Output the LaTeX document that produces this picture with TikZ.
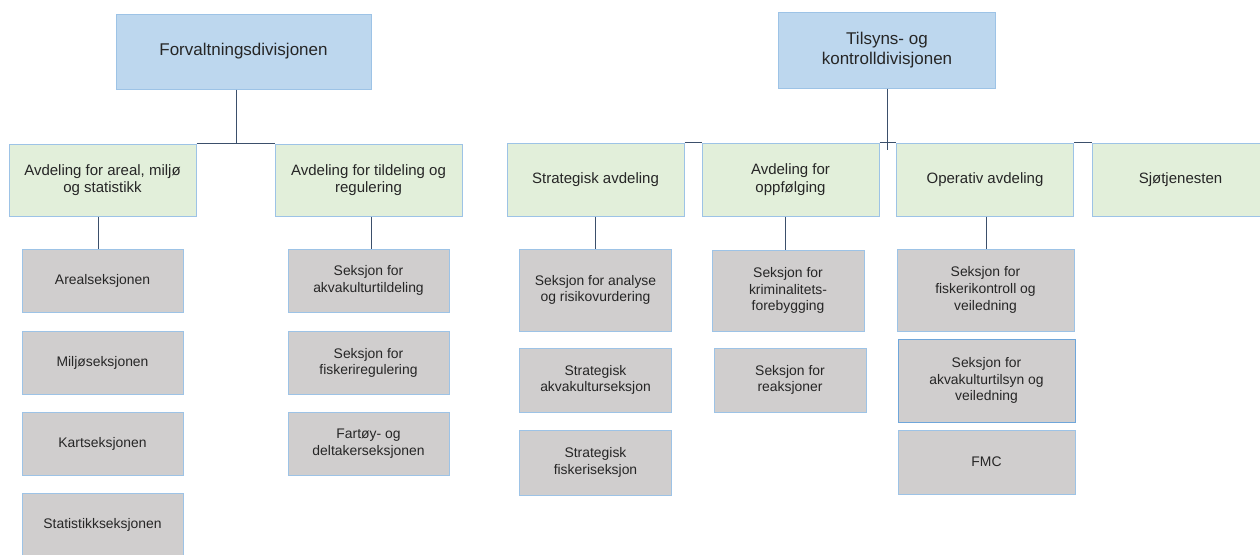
\documentclass[tikz,border=0pt]{standalone}
\usepackage{fontspec}
\setmainfont{Liberation Sans}
\usetikzlibrary{positioning}
\definecolor{divfill}{HTML}{BDD7EE}
\definecolor{deptfill}{HTML}{E2EFDA}
\definecolor{secfill}{HTML}{D0CECE}
\definecolor{edge}{HTML}{9DC3E6}
\definecolor{edgedark}{HTML}{6FA6DA}
\definecolor{linec}{HTML}{3B4F6B}
\definecolor{txt}{HTML}{262626}

\begin{document}
\begin{tikzpicture}[
  x=1pt,y=-1pt,
  every node/.style={text=txt},
  box/.style={draw=edge,line width=1pt,align=center,inner sep=2pt},
  div/.style={box,fill=divfill,font=\fontsize{17}{20}\selectfont},
  dept/.style={box,fill=deptfill,minimum width=177pt,minimum height=73pt,font=\fontsize{15}{17.5}\selectfont},
  sec/.style={box,fill=secfill,minimum width=152pt,minimum height=64pt,font=\fontsize{13.9}{16.7}\selectfont},
  conn/.style={draw=linec,line width=1pt}
]
\useasboundingbox (0,0) rectangle (1260,554);
% Forvaltningsdivisjonen
\node[div,minimum width=255pt,minimum height=75pt] (fdiv) at (243.5,51.5) {Forvaltningsdivisjonen};
\node[dept,minimum width=187pt,minimum height=72pt] (fa) at (102.5,180) {Avdeling for areal, miljø\\og statistikk};
\node[dept,minimum width=187pt,minimum height=72pt] (ft) at (368.5,180) {Avdeling for tildeling og\\regulering};
\node[sec,minimum width=161pt,minimum height=63pt] (fa1) at (102.5,280.5) {Arealseksjonen};
\node[sec,minimum width=161pt,minimum height=63pt] (fa2) at (102.5,363) {Miljøseksjonen};
\node[sec,minimum width=161pt,minimum height=63pt] (fa3) at (102.5,444) {Kartseksjonen};
\node[sec,minimum width=161pt,minimum height=63pt] (fa4) at (102.5,524.5) {Statistikkseksjonen};
\node[sec,minimum width=161pt,minimum height=63pt] (ft1) at (368.5,280.5) {Seksjon for\\akvakulturtildeling};
\node[sec,minimum width=161pt,minimum height=63pt] (ft2) at (368.5,363) {Seksjon for\\fiskeriregulering};
\node[sec,minimum width=161pt,minimum height=63pt] (ft3) at (368.5,444) {Fartøy- og\\deltakerseksjonen};
\coordinate (fjoin) at (236,144);
\draw[conn] (fdiv.south -| fjoin) -- (fjoin);
\draw[conn] (fa.north east) -- (ft.north west);
\draw[conn] (fa.south -| 98,0) -- (fa1.north -| 98,0);
\draw[conn] (ft.south -| 371,0) -- (ft1.north -| 371,0);
% Tilsyns- og kontrolldivisjonen
\node[div,minimum width=217pt,minimum height=76pt] (tdiv) at (887,50) {Tilsyns- og\\kontrolldivisjonen};
\node[dept] (strat) at (595.5,179.5) {Strategisk avdeling};
\node[dept] (opp) at (790.5,179.5) {Avdeling for\\oppfølging};
\node[dept] (oper) at (985,179.5) {Operativ avdeling};
\node[dept] (sjo) at (1180.5,179.5) {Sjøtjenesten};
\node[sec,minimum height=82pt] (strat1) at (595.5,290) {Seksjon for analyse\\og risikovurdering};
\node[sec] (strat2) at (595.5,380) {Strategisk\\akvakulturseksjon};
\node[sec,minimum height=65pt] (strat3) at (595.5,462.5) {Strategisk\\fiskeriseksjon};
\node[sec,minimum height=81pt] (opp1) at (788,290.5) {Seksjon for\\kriminalitets-\\forebygging};
\node[sec] (opp2) at (790,380) {Seksjon for\\reaksjoner};
\node[sec,minimum width=177pt,minimum height=82pt] (oper1) at (985.5,290) {Seksjon for\\fiskerikontroll og\\veiledning};
\node[sec,minimum width=177pt,minimum height=83pt,draw=edgedark] (oper2) at (986.5,380.5) {Seksjon for\\akvakulturtilsyn og\\veiledning};
\node[sec,minimum width=177pt] (oper3) at (986.5,462) {FMC};
\coordinate (tjoin) at (887,150);
\draw[conn] (tdiv) -- (tjoin);
\draw[conn] (strat.north east) -- (opp.north west);
\draw[conn] (opp.north east) -- (oper.north west);
\draw[conn] (oper.north east) -- (sjo.north west);
\draw[conn] (strat) -- (strat1);
\draw[conn] (opp.south -| 785,0) -- (opp1.north -| 785,0);
\draw[conn] (oper.south -| 986,0) -- (oper1.north -| 986,0);
\end{tikzpicture}
\end{document}
